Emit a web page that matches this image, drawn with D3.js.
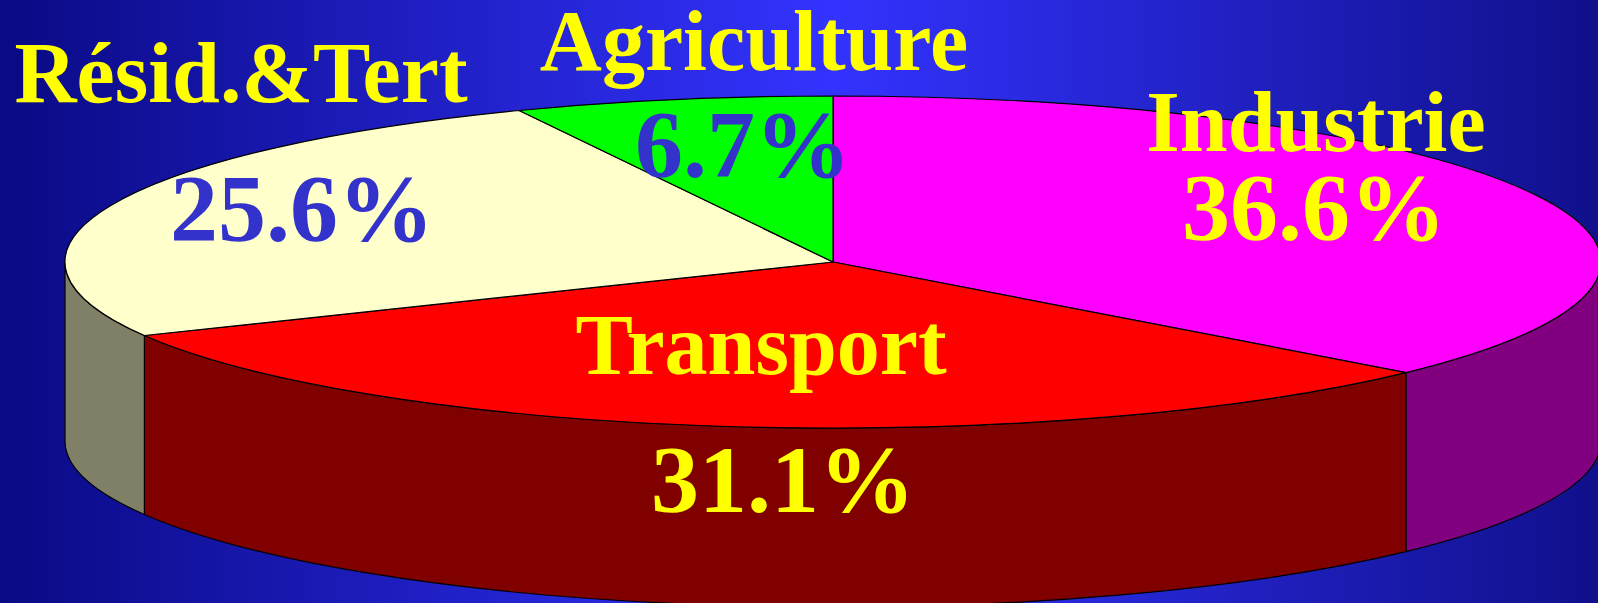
<!DOCTYPE html>
<html>
<head>
<meta charset="utf-8">
<script src="https://cdn.jsdelivr.net/npm/d3@7/dist/d3.min.js"></script>
<style>
  html, body { margin: 0; padding: 0; background: #0a0a85; overflow: hidden; }
  text { font-family: "Liberation Serif", "Times New Roman", serif; font-weight: bold; }
</style>
</head>
<body>
<script>
(function() {

	// data
	var sectors = ['Industrie', 'Transport', 'Résid.&Tert', 'Agriculture'];
	var shares = [36.6, 31.1, 25.6, 6.7];
	var shareLabels = ['36.6%', '31.1%', '25.6%', '6.7%'];

	var topColors = ['#ff00ff', '#ff0000', '#ffffcc', '#00ff00'];
	var sideColors = ['#800080', '#800000', '#808066', '#008000'];
	var nameColors = ['#ffff00', '#ffff00', '#ffff00', '#ffff00'];
	var pctColors = ['#ffff00', '#ffff00', '#3333cc', '#3333cc'];

	var width = 1598;
	var height = 603;
	var cx = 833;
	var cy = 262;
	var rx = 768;
	var ry = 166;
	var depth = 179;

	// label anchor points (centre x, baseline y)
	var namePos = [[1316, 151], [761, 374], [241, 102], [754, 70]];
	var pctPos = [[1314, 240], [783, 512], [302, 241], [743, 177]];

	var svg = d3.select('body')
		.append('svg')
			.attr('width', width)
			.attr('height', height);

	var defs = svg.append('defs');
	var bg = defs.append('linearGradient')
		.attr('id', 'bg')
		.attr('x1', '0%').attr('y1', '0%')
		.attr('x2', '100%').attr('y2', '0%');
	bg.append('stop').attr('offset', '0%').style('stop-color', '#0a0a85');
	bg.append('stop').attr('offset', '52%').style('stop-color', '#3333ff');
	bg.append('stop').attr('offset', '100%').style('stop-color', '#10108c');

	svg.append('rect')
		.attr('width', width)
		.attr('height', height)
		.attr('fill', 'url(#bg)');

	var xs = d3.scaleLinear().domain([-1, 1]).range([cx - rx, cx + rx]);
	var ys = d3.scaleLinear().domain([-1, 1]).range([cy + ry, cy - ry]);

	function pt(a, dy) {
		return xs(Math.sin(a)) + ',' + (ys(Math.cos(a)) + (dy || 0));
	}

	var pie = d3.pie().sort(null).value(d => d);
	var arcs = pie(shares);

	var g = svg.append('g');

	// side walls (front half only)
	arcs.forEach((d, i) => {
		var s = Math.max(d.startAngle, Math.PI / 2);
		var e = Math.min(d.endAngle, 3 * Math.PI / 2);
		if (s >= e) return;
		var p = 'M' + pt(s) +
			'A' + rx + ',' + ry + ' 0 0 1 ' + pt(e) +
			'L' + pt(e, depth) +
			'A' + rx + ',' + ry + ' 0 0 0 ' + pt(s, depth) + 'Z';
		g.append('path')
			.attr('d', p)
			.attr('fill', sideColors[i])
			.attr('stroke', '#000')
			.attr('stroke-width', 1.2)
			.attr('stroke-linejoin', 'round');
	});

	// top faces
	arcs.forEach((d, i) => {
		var large = (d.endAngle - d.startAngle) > Math.PI ? 1 : 0;
		var p = 'M' + cx + ',' + cy +
			'L' + pt(d.startAngle) +
			'A' + rx + ',' + ry + ' 0 ' + large + ' 1 ' + pt(d.endAngle) + 'Z';
		g.append('path')
			.attr('d', p)
			.attr('fill', topColors[i])
			.attr('stroke', '#000')
			.attr('stroke-width', 1.2)
			.attr('stroke-linejoin', 'round');
	});

	// labels
	sectors.forEach((name, i) => {
		svg.append('text')
			.attr('x', namePos[i][0])
			.attr('y', namePos[i][1])
			.attr('text-anchor', 'middle')
			.attr('font-size', 86)
			.attr('fill', nameColors[i])
			.text(name);
		svg.append('text')
			.attr('x', pctPos[i][0])
			.attr('y', pctPos[i][1])
			.attr('text-anchor', 'middle')
			.attr('font-size', 96)
			.attr('fill', pctColors[i])
			.text(shareLabels[i]);
	});

})();
</script>
</body>
</html>
